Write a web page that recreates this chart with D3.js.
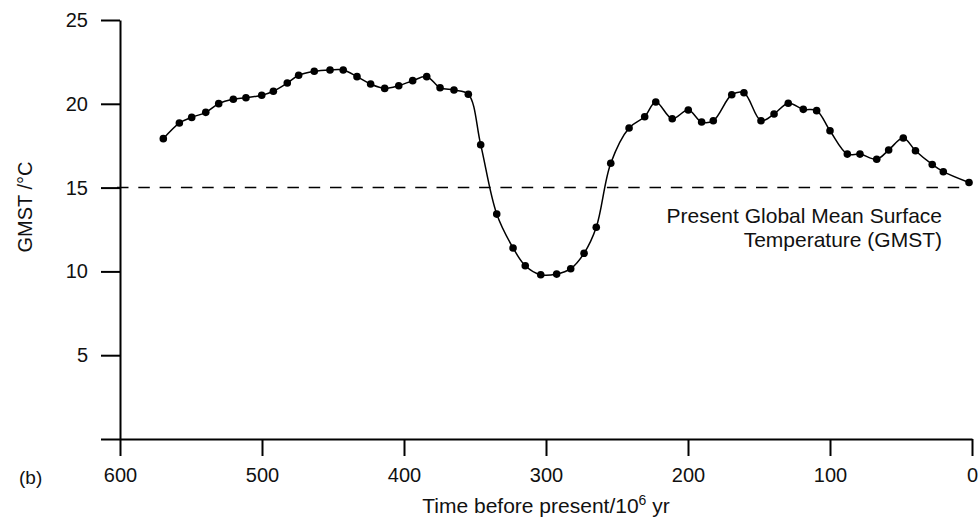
<!DOCTYPE html>
<html>
<head>
<meta charset="utf-8">
<script src="https://cdn.jsdelivr.net/npm/d3@7"></script>
<style>
  body { margin: 0; background: #fff; }
  svg { display: block; font-family: "Liberation Sans", Arial, sans-serif; }
</style>
</head>
<body>
<svg id="chart" width="978" height="523"></svg>
<script>
// time before present (10^6 yr) and GMST (°C)
const ages = [569.5, 558.2, 549.5, 539.6, 530.5, 520.2, 511.3, 500.2, 492.0, 482.2,
  474.2, 463.2, 452.1, 442.8, 433.1, 423.5, 413.6, 403.7, 393.9, 384.0,
  374.6, 364.8, 354.7, 346.0, 334.7, 323.2, 314.6, 303.7, 292.5, 282.6,
  273.2, 264.6, 254.4, 241.5, 230.5, 222.7, 211.1, 199.8, 190.4, 182.2,
  169.2, 160.6, 148.6, 139.4, 129.4, 118.8, 109.4, 100.0, 87.8, 78.9,
  67.1, 58.7, 48.4, 39.8, 28.0, 20.2, 2.1];
const temps = [17.92, 18.85, 19.19, 19.49, 20.01, 20.27, 20.36, 20.51, 20.75, 21.24,
  21.70, 21.94, 22.02, 22.02, 21.62, 21.18, 20.92, 21.08, 21.38, 21.62,
  20.96, 20.82, 20.57, 17.56, 13.42, 11.40, 10.34, 9.80, 9.84, 10.16,
  11.08, 12.63, 16.45, 18.56, 19.23, 20.11, 19.11, 19.63, 18.91, 18.99,
  20.54, 20.66, 18.99, 19.39, 20.03, 19.67, 19.59, 18.39, 17.00, 17.00,
  16.69, 17.24, 17.96, 17.20, 16.38, 15.95, 15.30];

const xTicks = [600, 500, 400, 300, 200, 100, 0];
const yTicks = [0, 5, 10, 15, 20, 25];
const presentGMST = 15;

const data = ages.map((a, i) => ({age: a, t: temps[i]}));

const svg = d3.select("#chart");

const x = d3.scaleLinear().domain([600, 0]).range([120, 972]);
const y = d3.scaleLinear().domain([0, 25]).range([439, 20]);

// axes
const yAxis = svg.append("g")
    .attr("transform", `translate(${x(600)},0)`)
    .call(d3.axisLeft(y).tickValues(yTicks).tickSize(19).tickSizeOuter(0).tickPadding(13)
      .tickFormat(d => d === 0 ? "" : d));

const xAxis = svg.append("g")
    .attr("transform", `translate(0,${y(0)})`)
    .call(d3.axisBottom(x).tickValues(xTicks).tickSize(17).tickSizeOuter(0).tickPadding(12));

[xAxis, yAxis].forEach(g => {
  g.selectAll("path, line").attr("stroke", "#000").attr("stroke-width", 2);
  g.selectAll("text").attr("fill", "#111").style("font-size", "20px");
});

// present GMST reference line
svg.append("line")
    .attr("x1", x(600) - 3).attr("x2", x(8))
    .attr("y1", y(presentGMST)).attr("y2", y(presentGMST))
    .attr("stroke", "#000").attr("stroke-width", 1.5)
    .attr("stroke-dasharray", "11.5,9.8");

const note = svg.append("text")
    .attr("text-anchor", "end")
    .attr("fill", "#111")
    .style("font-size", "21px");
note.append("tspan").attr("x", 942).attr("y", 223).text("Present Global Mean Surface");
note.append("tspan").attr("x", 942).attr("y", 247).text("Temperature (GMST)");

// temperature curve
const line = d3.line()
    .x(d => x(d.age))
    .y(d => y(d.t))
    .curve(d3.curveCatmullRom.alpha(0.5));

svg.append("path")
    .datum(data)
    .attr("fill", "none")
    .attr("stroke", "#000")
    .attr("stroke-width", 1.5)
    .attr("d", line);

svg.append("g").selectAll("circle")
    .data(data)
    .join("circle")
    .attr("cx", d => x(d.age))
    .attr("cy", d => y(d.t))
    .attr("r", 3.8)
    .attr("fill", "#000");

// labels
svg.append("text")
    .attr("transform", "translate(32,207) rotate(-90)")
    .attr("text-anchor", "middle")
    .attr("fill", "#111")
    .style("font-size", "20px")
    .text("GMST /°C");

const xl = svg.append("text")
    .attr("x", (x(600) + x(0)) / 2)
    .attr("y", 513)
    .attr("text-anchor", "middle")
    .attr("fill", "#111")
    .style("font-size", "21px");
xl.append("tspan").text("Time before present/10");
xl.append("tspan").attr("dy", -8).style("font-size", "14px").text("6");
xl.append("tspan").attr("dy", 8).text(" yr");

svg.append("text")
    .attr("x", 19)
    .attr("y", 484)
    .attr("fill", "#111")
    .style("font-size", "19px")
    .text("(b)");
</script>
</body>
</html>
